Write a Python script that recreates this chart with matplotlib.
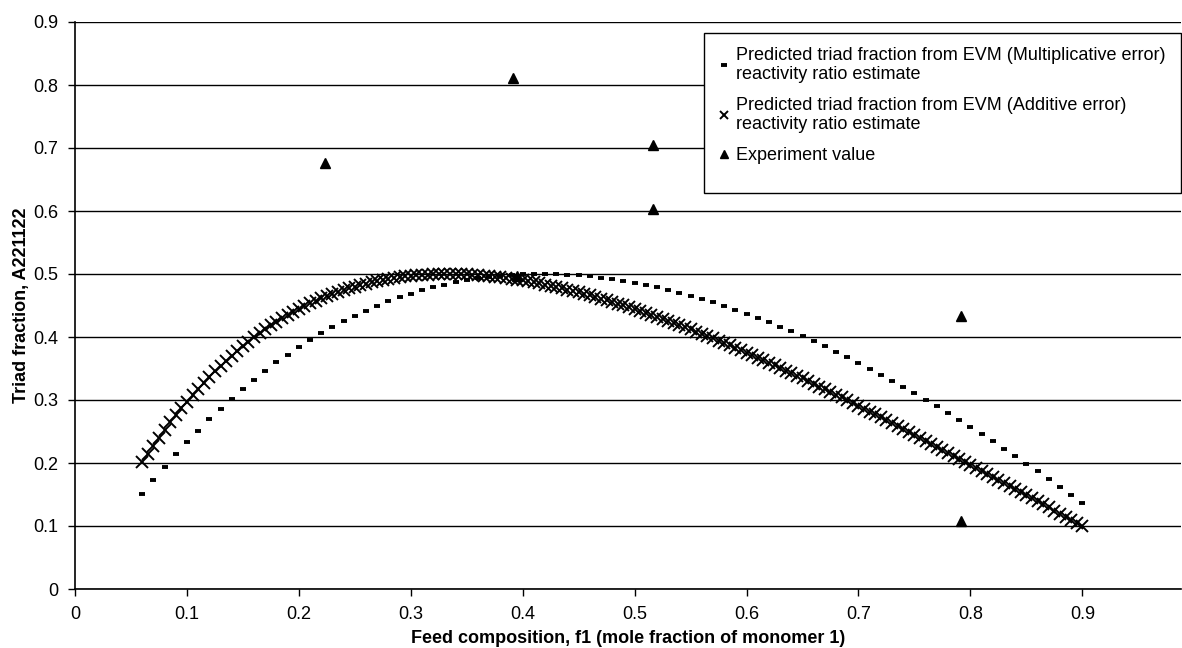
import matplotlib
matplotlib.use("Agg")
import matplotlib.pyplot as plt
from matplotlib.patches import Rectangle

# feed composition f1 and predicted triad fraction, EVM additive error estimate
f_add = [
    0.060, 0.065, 0.070, 0.075, 0.080, 0.085, 0.090, 0.095, 0.100, 0.105,
    0.110, 0.115, 0.120, 0.125, 0.130, 0.135, 0.140, 0.145, 0.150, 0.155,
    0.160, 0.165, 0.170, 0.175, 0.180, 0.185, 0.190, 0.195, 0.200, 0.205,
    0.210, 0.215, 0.220, 0.225, 0.230, 0.235, 0.240, 0.245, 0.250, 0.255,
    0.260, 0.265, 0.270, 0.275, 0.280, 0.285, 0.290, 0.295, 0.300, 0.305,
    0.310, 0.315, 0.320, 0.325, 0.330, 0.335, 0.340, 0.345, 0.350, 0.355,
    0.360, 0.365, 0.370, 0.375, 0.380, 0.385, 0.390, 0.395, 0.400, 0.405,
    0.410, 0.415, 0.420, 0.425, 0.430, 0.435, 0.440, 0.445, 0.450, 0.455,
    0.460, 0.465, 0.470, 0.475, 0.480, 0.485, 0.490, 0.495, 0.500, 0.505,
    0.510, 0.515, 0.520, 0.525, 0.530, 0.535, 0.540, 0.545, 0.550, 0.555,
    0.560, 0.565, 0.570, 0.575, 0.580, 0.585, 0.590, 0.595, 0.600, 0.605,
    0.610, 0.615, 0.620, 0.625, 0.630, 0.635, 0.640, 0.645, 0.650, 0.655,
    0.660, 0.665, 0.670, 0.675, 0.680, 0.685, 0.690, 0.695, 0.700, 0.705,
    0.710, 0.715, 0.720, 0.725, 0.730, 0.735, 0.740, 0.745, 0.750, 0.755,
    0.760, 0.765, 0.770, 0.775, 0.780, 0.785, 0.790, 0.795, 0.800, 0.805,
    0.810, 0.815, 0.820, 0.825, 0.830, 0.835, 0.840, 0.845, 0.850, 0.855,
    0.860, 0.865, 0.870, 0.875, 0.880, 0.885, 0.890, 0.895, 0.900,
]
y_add = [
    0.2008, 0.2143, 0.2274, 0.2401, 0.2524, 0.2643, 0.2757, 0.2868, 0.2975, 0.3079,
    0.3178, 0.3275, 0.3367, 0.3457, 0.3543, 0.3626, 0.3706, 0.3783, 0.3856, 0.3927,
    0.3995, 0.4060, 0.4123, 0.4183, 0.4240, 0.4295, 0.4347, 0.4397, 0.4444, 0.4490,
    0.4533, 0.4573, 0.4612, 0.4648, 0.4682, 0.4715, 0.4745, 0.4773, 0.4800, 0.4825,
    0.4848, 0.4869, 0.4888, 0.4906, 0.4922, 0.4936, 0.4949, 0.4961, 0.4970, 0.4979,
    0.4986, 0.4991, 0.4995, 0.4998, 0.5000, 0.5000, 0.4999, 0.4997, 0.4993, 0.4988,
    0.4983, 0.4976, 0.4968, 0.4959, 0.4949, 0.4937, 0.4925, 0.4912, 0.4898, 0.4883,
    0.4867, 0.4850, 0.4832, 0.4814, 0.4794, 0.4774, 0.4753, 0.4731, 0.4709, 0.4685,
    0.4661, 0.4637, 0.4611, 0.4585, 0.4558, 0.4531, 0.4502, 0.4474, 0.4444, 0.4415,
    0.4384, 0.4353, 0.4321, 0.4289, 0.4256, 0.4223, 0.4190, 0.4155, 0.4121, 0.4086,
    0.4050, 0.4014, 0.3977, 0.3941, 0.3903, 0.3866, 0.3827, 0.3789, 0.3750, 0.3711,
    0.3671, 0.3631, 0.3591, 0.3550, 0.3509, 0.3468, 0.3427, 0.3385, 0.3343, 0.3300,
    0.3257, 0.3214, 0.3171, 0.3128, 0.3084, 0.3040, 0.2996, 0.2951, 0.2907, 0.2862,
    0.2817, 0.2771, 0.2726, 0.2680, 0.2634, 0.2588, 0.2542, 0.2496, 0.2449, 0.2402,
    0.2355, 0.2308, 0.2261, 0.2214, 0.2166, 0.2119, 0.2071, 0.2023, 0.1975, 0.1927,
    0.1879, 0.1831, 0.1782, 0.1734, 0.1685, 0.1637, 0.1588, 0.1539, 0.1490, 0.1441,
    0.1392, 0.1343, 0.1294, 0.1244, 0.1195, 0.1146, 0.1096, 0.1047, 0.0997,
]

# EVM multiplicative error estimate
f_mult = [
    0.06, 0.07, 0.08, 0.09, 0.10, 0.11, 0.12, 0.13, 0.14, 0.15,
    0.16, 0.17, 0.18, 0.19, 0.20, 0.21, 0.22, 0.23, 0.24, 0.25,
    0.26, 0.27, 0.28, 0.29, 0.30, 0.31, 0.32, 0.33, 0.34, 0.35,
    0.36, 0.37, 0.38, 0.39, 0.40, 0.41, 0.42, 0.43, 0.44, 0.45,
    0.46, 0.47, 0.48, 0.49, 0.50, 0.51, 0.52, 0.53, 0.54, 0.55,
    0.56, 0.57, 0.58, 0.59, 0.60, 0.61, 0.62, 0.63, 0.64, 0.65,
    0.66, 0.67, 0.68, 0.69, 0.70, 0.71, 0.72, 0.73, 0.74, 0.75,
    0.76, 0.77, 0.78, 0.79, 0.80, 0.81, 0.82, 0.83, 0.84, 0.85,
    0.86, 0.87, 0.88, 0.89, 0.90,
]
y_mult = [
    0.1506, 0.1725, 0.1935, 0.2137, 0.2330, 0.2515, 0.2692, 0.2861, 0.3023, 0.3177,
    0.3324, 0.3464, 0.3596, 0.3722, 0.3841, 0.3953, 0.4059, 0.4158, 0.4252, 0.4339,
    0.4420, 0.4495, 0.4565, 0.4629, 0.4688, 0.4741, 0.4788, 0.4831, 0.4869, 0.4901,
    0.4929, 0.4952, 0.4971, 0.4985, 0.4994, 0.4999, 0.5000, 0.4996, 0.4989, 0.4977,
    0.4961, 0.4942, 0.4919, 0.4892, 0.4861, 0.4827, 0.4789, 0.4748, 0.4704, 0.4656,
    0.4605, 0.4551, 0.4494, 0.4434, 0.4370, 0.4304, 0.4236, 0.4164, 0.4089, 0.4012,
    0.3933, 0.3850, 0.3766, 0.3678, 0.3589, 0.3497, 0.3403, 0.3306, 0.3207, 0.3107,
    0.3004, 0.2898, 0.2791, 0.2682, 0.2571, 0.2458, 0.2343, 0.2227, 0.2108, 0.1988,
    0.1866, 0.1743, 0.1618, 0.1491, 0.1362,
]

# experimental triad fractions
f_exp = [0.223, 0.391, 0.395, 0.516, 0.516, 0.792, 0.792]
y_exp = [0.676, 0.811, 0.497, 0.705, 0.603, 0.433, 0.108]

labels = [
    "Predicted triad fraction from EVM (Multiplicative error)\nreactivity ratio estimate",
    "Predicted triad fraction from EVM (Additive error)\nreactivity ratio estimate",
    "Experiment value",
]
ticks = [0, 0.1, 0.2, 0.3, 0.4, 0.5, 0.6, 0.7, 0.8, 0.9]
tick_labels = ["0", "0.1", "0.2", "0.3", "0.4", "0.5", "0.6", "0.7", "0.8", "0.9"]

plt.rcParams["font.family"] = ["Liberation Sans", "DejaVu Sans"]

W, H = 1182, 648
fig = plt.figure(figsize=(W / 100, H / 100), dpi=100)
ax = fig.add_axes([75 / W, 59 / H, 1 - 75 / W - 0.001, (589 - 22) / H])

ax.plot(f_mult, y_mult, linestyle="none", marker="_", markersize=5,
        markeredgewidth=2.8, color="black", label=labels[0])
ax.plot(f_add, y_add, linestyle="none", marker="x", markersize=8,
        markeredgewidth=1.4, color="black", label=labels[1])
ax.plot(f_exp, y_exp, linestyle="none", marker="^", markersize=7,
        color="black", label=labels[2])

ax.set_xlim(0, 0.988)
ax.set_ylim(0, 0.9)
ax.set_xticks(ticks)
ax.set_xticklabels(tick_labels)
ax.set_yticks(ticks)
ax.set_yticklabels(tick_labels)
ax.tick_params(axis="both", direction="out", length=5, width=1, labelsize=13,
               color="black", pad=7)
ax.yaxis.grid(True, color="black", linewidth=1)
ax.set_axisbelow(True)
for side in ["top", "right"]:
    ax.spines[side].set_visible(False)
for side in ["left", "bottom"]:
    ax.spines[side].set_linewidth(1.2)

ax.set_xlabel("Feed composition, f1 (mole fraction of monomer 1)",
              fontsize=13, fontweight="bold", labelpad=5)
ax.set_ylabel("Triad fraction, A221122", fontsize=13, fontweight="bold", labelpad=2)

# legend text without its own frame; the box is taller than the entries
leg = ax.legend(loc="upper left", bbox_to_anchor=(704 / W, 1 - 33 / H),
                bbox_transform=fig.transFigure, fontsize=13, frameon=False,
                borderaxespad=0, handlelength=0.7, handletextpad=0.35,
                labelspacing=0.75, borderpad=0.75, markerscale=0.75)
leg.set_zorder(6)
box = Rectangle((704 / W, 1 - 193 / H), (W - 1 - 704) / W, 160 / H,
                transform=fig.transFigure, facecolor="white",
                edgecolor="black", linewidth=1, zorder=5, clip_on=False)
ax.add_patch(box)

fig.savefig("out.png", dpi=100)
